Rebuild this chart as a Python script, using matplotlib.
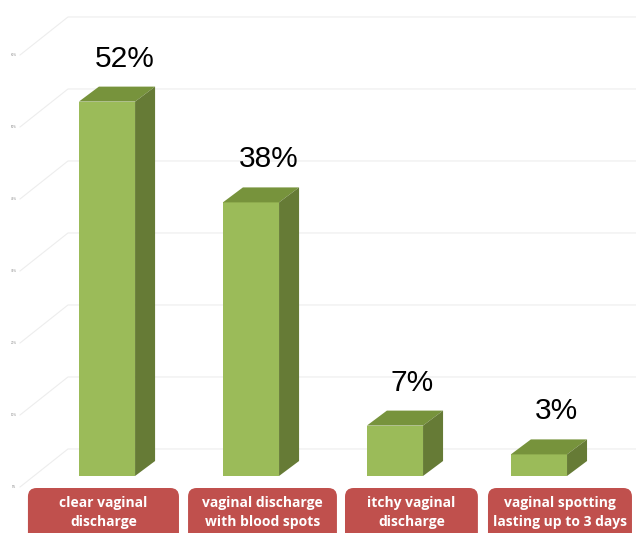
import matplotlib.pyplot as plt
from matplotlib.patches import FancyBboxPatch, Polygon

# data
categories = ["clear vaginal\ndischarge", "vaginal discharge\nwith blood spots",
              "itchy vaginal\ndischarge", "vaginal spotting\nlasting up to 3 days"]
values = [52, 38, 7, 3]
labels = ["52%", "38%", "7%", "3%"]
grid_values = [0, 10, 20, 30, 40, 50, 60]
tick_labels = ["0%", "10%", "20%", "30%", "40%", "50%", "60%"]

front = "#9BBB59"
top_c = "#77933C"
side_c = "#667B36"
box_c = "#C0504D"
grid_c = "#EDEDED"

fig = plt.figure(figsize=(6.36, 5.33), dpi=100)
ax = fig.add_axes([0, 0, 1, 1])
ax.set_xlim(-0.743, 3.674)
ax.set_ylim(-7.92, 66.11)
ax.axis("off")

width = 0.39
dx, dy = 0.139, 2.08   # bar depth offset

# perspective gridlines
for v, t in zip(grid_values, tick_labels):
    ax.plot([-0.604, -0.271, 3.674], [v - 1.53, v + 3.75, v + 3.75],
            color=grid_c, lw=0.8, zorder=0)
    ax.text(-0.646, v - 1.53, t, fontsize=2, color="#888888",
            ha="center", va="center")

# 3d bars
for i, v in enumerate(values):
    x0 = i - width / 2
    x1 = i + width / 2
    ax.bar(i, v, width=width, color=front, zorder=3)
    ax.add_patch(Polygon([(x0, v), (x1, v), (x1 + dx, v + dy), (x0 + dx, v + dy)],
                         closed=True, facecolor=top_c, edgecolor="none", zorder=3))
    ax.add_patch(Polygon([(x1, 0), (x1 + dx, dy), (x1 + dx, v + dy), (x1, v)],
                         closed=True, facecolor=side_c, edgecolor="none", zorder=3))
    ax.text(i + 0.12, v + 4.86, labels[i], fontsize=21.5, family="Liberation Sans",
            ha="center", va="baseline", color="black")

# category boxes
box_left = [-0.549, 0.563, 1.653, 2.646]
box_right = [0.500, 1.597, 2.576, 3.646]
for i, cat in enumerate(categories):
    l, r = box_left[i], box_right[i]
    ax.add_patch(FancyBboxPatch((l, -9.6), r - l, 9.6 - 1.67,
                                boxstyle="round,pad=0,rounding_size=0.06",
                                mutation_aspect=20, facecolor=box_c,
                                edgecolor="none", zorder=3))
    ax.text((l + r) / 2, -5.1, cat, fontsize=10, fontweight="bold",
            family="Open Sans", color="white", ha="center", va="center",
            linespacing=1.4, zorder=4)

fig.savefig("out.png", dpi=100)
